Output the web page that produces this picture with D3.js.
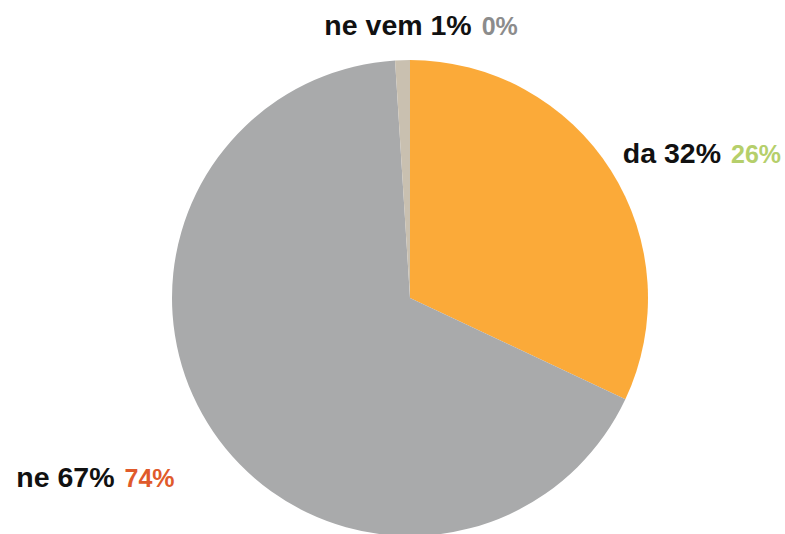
<!DOCTYPE html>
<html>
<head>
<meta charset="utf-8">
<script src="https://cdn.jsdelivr.net/npm/d3@7"></script>
<style>
  html, body { margin: 0; padding: 0; background: #fff; }
  svg { display: block; }
  text { font-family: "Liberation Sans", Arial, Helvetica, sans-serif; font-weight: bold; }
</style>
</head>
<body>
<div id="chart"></div>
<script>
// answers, share this year and comparison share
const categories = ['da', 'ne', 'ne vem'];
const values = [32, 67, 1];
const compareValues = [26, 74, 0];

const sliceColors = ['#fbaa39', '#a9aaab', '#c9c0b0'];
const compareColors = ['#b5cf6b', '#e05a2b', '#8c8c8c'];

const width = 785;
const height = 534;
const radius = 238;
const cx = 410;
const cy = 298;

// label placement tweaks (anchor + nudge from the label arc)
const labelLayout = [
  { anchor: 'start', dx: 0, dy: 0 },
  { anchor: 'end', dx: -27, dy: 47 },
  { anchor: 'middle', dx: 19, dy: -11 },
];

const data = categories.map((c, i) => ({
  name: c,
  value: values[i],
  compare: compareValues[i],
  index: i,
}));

const svg = d3.select('#chart')
  .append('svg')
  .attr('width', width)
  .attr('height', height);

const g = svg.append('g')
  .attr('transform', `translate(${cx},${cy})`);

const pie = d3.pie()
  .sort(null)
  .value(d => d.value);

const arc = d3.arc()
  .innerRadius(0)
  .outerRadius(radius);

const labelArc = d3.arc()
  .innerRadius(252)
  .outerRadius(252);

const arcs = pie(data);

g.selectAll('path')
  .data(arcs)
  .enter()
  .append('path')
  .attr('d', arc)
  .style('fill', d => sliceColors[d.data.index]);

const labels = g.selectAll('text.label')
  .data(arcs)
  .enter()
  .append('text')
  .attr('class', 'label')
  .attr('text-anchor', d => labelLayout[d.data.index].anchor)
  .attr('transform', d => {
    const [x, y] = labelArc.centroid(d);
    const l = labelLayout[d.data.index];
    return `translate(${x + l.dx},${y + l.dy})`;
  });

labels.append('tspan')
  .style('font-size', '28.5px')
  .style('fill', '#111')
  .text(d => `${d.data.name} ${d.data.value}%`);

labels.append('tspan')
  .attr('dx', 10)
  .style('font-size', '25px')
  .style('fill', d => compareColors[d.data.index])
  .text(d => `${d.data.compare}%`);
</script>
</body>
</html>
